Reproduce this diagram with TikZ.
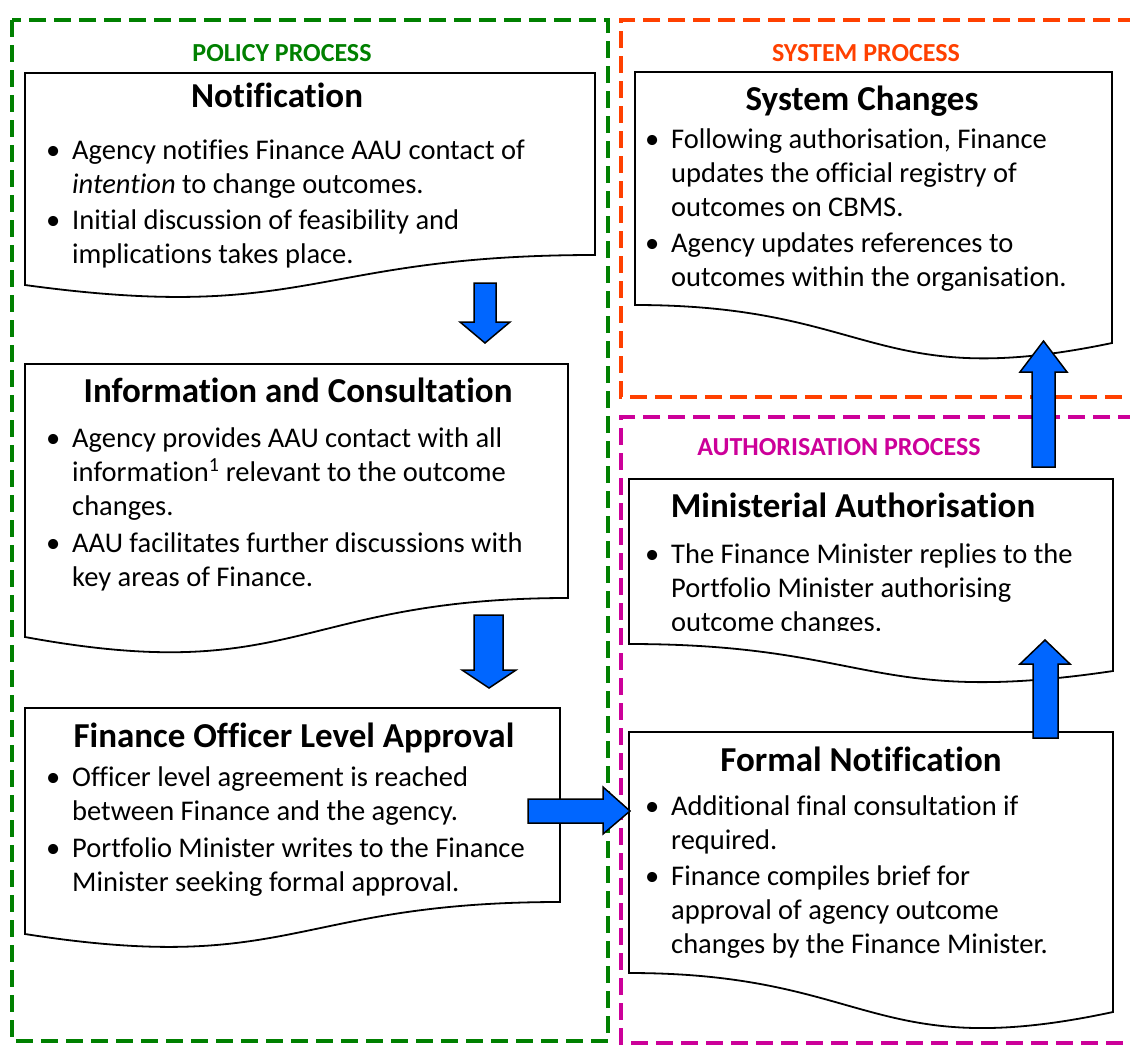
\documentclass[tikz,border=0pt]{standalone}
\usepackage{fontspec}
\setmainfont{Carlito}[Ligatures=NoCommon]
\definecolor{polgreen}{RGB}{0,128,0}
\definecolor{sysred}{RGB}{255,64,0}
\definecolor{authmag}{RGB}{204,0,153}
\definecolor{arrblue}{RGB}{0,102,255}
\begin{document}
\begin{tikzpicture}[x=1pt,y=-1pt,
  zone/.style={line width=4pt, dash pattern=on 17pt off 8pt},
  docbox/.style={draw=black, fill=white, line width=1.8pt, line join=miter},
  blockarrow/.style={draw=black, fill=arrblue, line width=1.5pt, line join=miter},
  title/.style={inner sep=0pt, anchor=base, font=\fontsize{35}{40}\selectfont\bfseries},
  body/.style={inner sep=0pt, anchor=base west, font=\fontsize{28.5}{34}\selectfont},
  zonelabel/.style={inner sep=0pt, anchor=base, font=\fontsize{26}{30}\selectfont\bfseries}]
\useasboundingbox (0,0) rectangle (1130,1045);

% zones
\draw[zone, polgreen] (12,20) rectangle (608,1041);
\draw[zone, sysred] (1135,20) -- (621,20) -- (621,397) -- (1135,397);
\draw[zone, authmag] (1135,417) -- (621,417) -- (621,1043) -- (1135,1043);

\node[zonelabel, text=polgreen] (lpol) at (282,61) {POLICY PROCESS};
\node[zonelabel, text=sysred] (lsys) at (866,61) {SYSTEM PROCESS};
\node[zonelabel, text=authmag] (lauth) at (839,455) {AUTHORISATION PROCESS};

% document boxes
\draw[docbox] (25,73) -- (595,73) -- (595,255) .. controls (310,255) and (310,324) .. (25,285) -- cycle;
\draw[docbox] (25,364) -- (568,364) -- (568,598) .. controls (296.5,598) and (296.5,687) .. (25,637) -- cycle;
\draw[docbox] (25,708) -- (560,708) -- (560,902) .. controls (292.5,902) and (292.5,976) .. (25,934) -- cycle;
\draw[docbox] (635,72) -- (1112,72) -- (1112,343) .. controls (873.5,393) and (873.5,305) .. (635,305) -- cycle;
\draw[docbox] (629,479) -- (1113,479) -- (1113,671) .. controls (871,707) and (871,644) .. (629,644) -- cycle;
\draw[docbox] (629,732) -- (1113,732) -- (1113,1012) .. controls (871,1064) and (871,973) .. (629,973) -- cycle;

% titles
\node[title] (t1) at (277,107) {Notification};
\node[title] (t2) at (298,402) {Information and Consultation};
\node[title] (t3) at (294,747) {Finance Officer Level Approval};
\node[title] (t4) at (862,110) {System Changes};
\node[title] (t5) at (853,517) {Ministerial Authorisation};
\node[title] (t6) at (861,771) {Formal Notification};

% bodies
\node[body] (b1) at (46,159) {\begin{tabular}[t]{@{}p{26pt}@{}l@{}}
\textbullet & Agency notifies Finance AAU contact of\\
 & \textit{intention} to change outcomes.\\[2pt]
\textbullet & Initial discussion of feasibility and\\
 & implications takes place.
\end{tabular}};

\node[body] (b2) at (46,447) {\begin{tabular}[t]{@{}p{26pt}@{}l@{}}
\textbullet & Agency provides AAU contact with all\\
 & information\textsuperscript{1} relevant to the outcome\\
 & changes.\\[3pt]
\textbullet & AAU facilitates further discussions with\\
 & key areas of Finance.
\end{tabular}};

\node[body] (b3) at (46,786) {\begin{tabular}[t]{@{}p{26pt}@{}l@{}}
\textbullet & Officer level agreement is reached\\
 & between Finance and the agency.\\[3pt]
\textbullet & Portfolio Minister writes to the Finance\\
 & Minister seeking formal approval.
\end{tabular}};

\node[body] (b4) at (645,148) {\begin{tabular}[t]{@{}p{26pt}@{}l@{}}
\textbullet & Following authorisation, Finance\\
 & updates the official registry of\\
 & outcomes on CBMS.\\[2pt]
\textbullet & Agency updates references to\\
 & outcomes within the organisation.
\end{tabular}};

\begin{scope}
\clip (629,479) rectangle (1113,630);
\node[body] (b5) at (645,563) {\begin{tabular}[t]{@{}p{26pt}@{}l@{}}
\textbullet & The Finance Minister replies to the\\
 & Portfolio Minister authorising\\
 & outcome changes.
\end{tabular}};
\end{scope}

\node[body] (b6) at (645,815) {\begin{tabular}[t]{@{}p{26pt}@{}l@{}}
\textbullet & Additional final consultation if\\
 & required.\\[2pt]
\textbullet & Finance compiles brief for\\
 & approval of agency outcome\\
 & changes by the Finance Minister.
\end{tabular}};

% block arrows
\draw[blockarrow] (474,283) -- (496,283) -- (496,322) -- (510,322) -- (485,343) -- (460,322) -- (474,322) -- cycle;
\draw[blockarrow] (474,615) -- (503,615) -- (503,670) -- (516,670) -- (489,688) -- (462,670) -- (474,670) -- cycle;
\draw[blockarrow] (528,799) -- (603,799) -- (603,787) -- (630,811) -- (603,834) -- (603,823) -- (528,823) -- cycle;
\draw[blockarrow] (1033,738) -- (1033,664) -- (1020,664) -- (1045,640) -- (1070,664) -- (1058,664) -- (1058,738) -- cycle;
\draw[blockarrow] (1032,467) -- (1032,372) -- (1020,372) -- (1043.5,341) -- (1067,372) -- (1055,372) -- (1055,467) -- cycle;
\end{tikzpicture}
\end{document}
